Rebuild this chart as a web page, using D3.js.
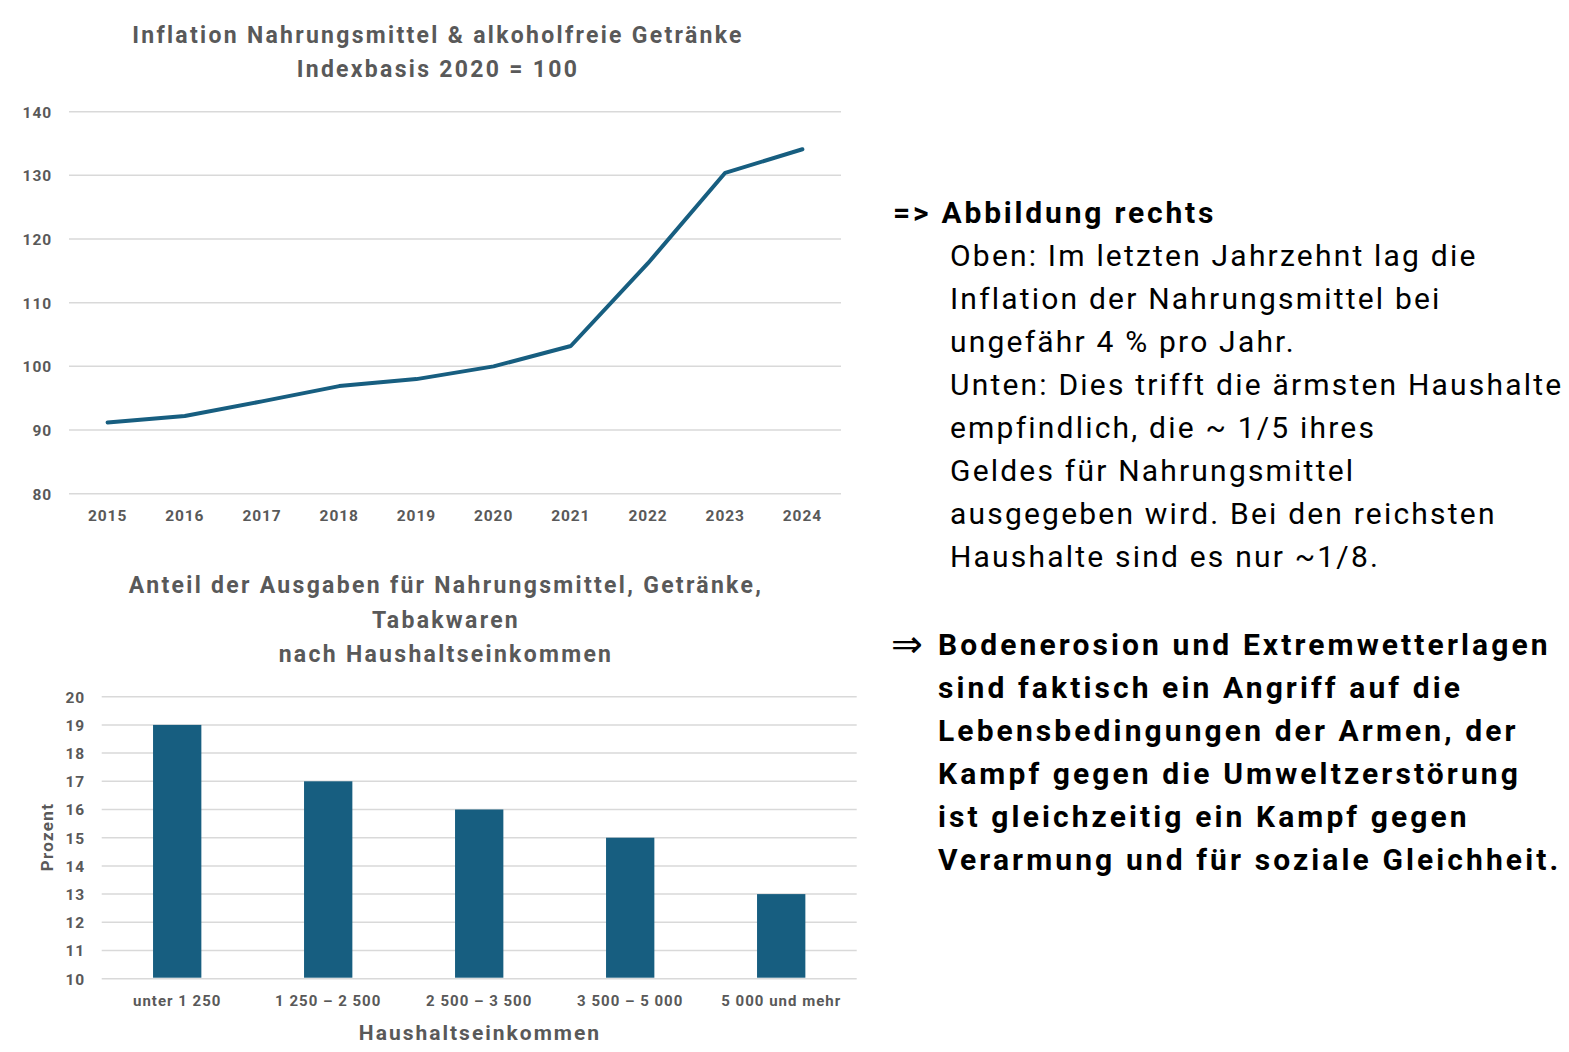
<!DOCTYPE html>
<html><head><meta charset="utf-8">
<script src="https://cdn.jsdelivr.net/npm/d3@7"></script>
<style>
body{margin:0;background:#fff;}
svg{display:block;}
</style></head>
<body>
<svg id="c" width="1569" height="1052"></svg>
<script>
// ---- data ----
const years = ["2015","2016","2017","2018","2019","2020","2021","2022","2023","2024"];
const indexValues = [91.2, 92.2, 94.5, 96.9, 98.0, 100.0, 103.2, 116.2, 130.4, 134.1];
const lineTicks = [80, 90, 100, 110, 120, 130, 140];

const incomeGroups = ["unter 1 250", "1 250 – 2 500", "2 500 – 3 500", "3 500 – 5 000", "5 000 und mehr"];
const shareValues = [19, 17, 16, 15, 13];
const barTicks = [10, 11, 12, 13, 14, 15, 16, 17, 18, 19, 20];

const lineTitle = ["Inflation Nahrungsmittel & alkoholfreie Getränke", "Indexbasis 2020 = 100"];
const barTitle = ["Anteil der Ausgaben für Nahrungsmittel, Getränke,", "Tabakwaren", "nach Haushaltseinkommen"];
const textBlock1 = [
  {t:"=> Abbildung rechts", bold:true, x:893},
  {t:"Oben: Im letzten Jahrzehnt lag die", x:950},
  {t:"Inflation der Nahrungsmittel bei", x:950},
  {t:"ungefähr 4 % pro Jahr.", x:950},
  {t:"Unten: Dies trifft die ärmsten Haushalte", x:950},
  {t:"empfindlich, die ~ 1/5 ihres", x:950},
  {t:"Geldes für Nahrungsmittel", x:950},
  {t:"ausgegeben wird. Bei den reichsten", x:950},
  {t:"Haushalte sind es nur ~1/8.", x:950}
];
const textBlock2 = [
  "Bodenerosion und Extremwetterlagen",
  "sind faktisch ein Angriff auf die",
  "Lebensbedingungen der Armen, der",
  "Kampf gegen die Umweltzerstörung",
  "ist gleichzeitig ein Kampf gegen",
  "Verarmung und für soziale Gleichheit."
];

const svg = d3.select("#c");
const gray = "#595959", grid = "#d9d9d9", blue = "#175e80";
const FONT = "Roboto, 'Liberation Sans', sans-serif";

// ---- line chart ----
const lx = d3.scaleBand().domain(years).range([69, 841]);
const ly = d3.scaleLinear().domain([80, 140]).range([493.7, 111.7]);

const g1 = svg.append("g");
g1.selectAll("line.grid").data(lineTicks).join("line")
  .attr("x1", 69).attr("x2", 841)
  .attr("y1", d => ly(d)).attr("y2", d => ly(d))
  .attr("stroke", grid).attr("stroke-width", 1.5);

const yAx1 = d3.axisLeft(ly).tickValues(lineTicks).tickSize(0).tickPadding(0);
g1.append("g").attr("transform", "translate(52,0)").call(yAx1)
  .call(g => g.select(".domain").remove())
  .selectAll("text").attr("font-family", FONT).attr("font-size", 15.5).attr("font-weight", "bold")
  .attr("letter-spacing", 0.9).attr("fill", gray).attr("dy", "0.35em");

const xAx1 = d3.axisBottom(lx).tickSize(0).tickPadding(0);
g1.append("g").attr("transform", "translate(0,510)").call(xAx1)
  .call(g => g.select(".domain").remove())
  .selectAll("text").attr("font-family", FONT).attr("font-size", 15.5).attr("font-weight", "bold")
  .attr("letter-spacing", 0.9).attr("fill", gray).attr("dy", "0.35em").attr("y", 6);

const line = d3.line().x((d, i) => lx(years[i]) + lx.bandwidth() / 2).y(d => ly(d));
g1.append("path").datum(indexValues).attr("d", line)
  .attr("fill", "none").attr("stroke", blue).attr("stroke-width", 4)
  .attr("stroke-linecap", "round").attr("stroke-linejoin", "round");

g1.selectAll("text.title").data(lineTitle).join("text")
  .attr("x", 438).attr("y", (d, i) => 35 + i * 34).attr("dy", "0.35em")
  .attr("text-anchor", "middle").attr("font-family", FONT).attr("font-weight", "bold")
  .attr("font-size", 23).attr("letter-spacing", 2.3).attr("fill", gray).text(d => d);

// ---- bar chart ----
const bx = d3.scaleBand().domain(incomeGroups).range([101.7, 856.7]).paddingInner(0.68).paddingOuter(0.34);
const by = d3.scaleLinear().domain([10, 20]).range([978.7, 696.7]);

const g2 = svg.append("g");
g2.selectAll("line.grid").data(barTicks).join("line")
  .attr("x1", 101.7).attr("x2", 856.7)
  .attr("y1", d => by(d)).attr("y2", d => by(d))
  .attr("stroke", grid).attr("stroke-width", 1.5);

g2.selectAll("rect").data(shareValues).join("rect")
  .attr("x", (d, i) => bx(incomeGroups[i]))
  .attr("width", bx.bandwidth())
  .attr("y", d => by(d))
  .attr("height", d => by(10) - by(d) - 1)
  .attr("fill", blue);

const yAx2 = d3.axisLeft(by).tickValues(barTicks).tickSize(0).tickPadding(0);
g2.append("g").attr("transform", "translate(85,0)").call(yAx2)
  .call(g => g.select(".domain").remove())
  .selectAll("text").attr("font-family", FONT).attr("font-size", 15.5).attr("font-weight", "bold")
  .attr("letter-spacing", 0.9).attr("fill", gray).attr("dy", "0.35em");

const xAx2 = d3.axisBottom(bx).tickSize(0).tickPadding(0);
g2.append("g").attr("transform", "translate(0,995)").call(xAx2)
  .call(g => g.select(".domain").remove())
  .selectAll("text").attr("font-family", FONT).attr("font-size", 15).attr("font-weight", "bold")
  .attr("letter-spacing", 1).attr("fill", gray).attr("dy", "0.35em").attr("y", 6);

g2.selectAll("text.title").data(barTitle).join("text")
  .attr("x", 446).attr("y", (d, i) => 585 + i * 34.5).attr("dy", "0.35em")
  .attr("text-anchor", "middle").attr("font-family", FONT).attr("font-weight", "bold")
  .attr("font-size", 23).attr("letter-spacing", 2.3).attr("fill", gray).text(d => d);

g2.append("text").attr("transform", "translate(47,837) rotate(-90)").attr("dy", "0.35em")
  .attr("text-anchor", "middle").attr("font-family", FONT).attr("font-weight", "bold")
  .attr("font-size", 17).attr("letter-spacing", 1.3).attr("fill", gray).text("Prozent");

g2.append("text").attr("x", 480).attr("y", 1033).attr("dy", "0.35em")
  .attr("text-anchor", "middle").attr("font-family", FONT).attr("font-weight", "bold")
  .attr("font-size", 21).attr("letter-spacing", 2).attr("fill", gray).text("Haushaltseinkommen");

// ---- right text ----
const TF = "Roboto, 'Liberation Sans', sans-serif";
const g3 = svg.append("g");
g3.selectAll("text.b1").data(textBlock1).join("text")
  .attr("x", d => d.x).attr("y", (d, i) => 212 + i * 43.1).attr("dy", "0.35em")
  .attr("font-family", TF).attr("font-size", 30)
  .attr("font-weight", d => d.bold ? "bold" : "normal")
  .attr("letter-spacing", d => d.bold ? 2.8 : 2.2)
  .attr("fill", "#000").text(d => d.t);

g3.append("text").attr("x", 891).attr("y", 644).attr("dy", "0.35em")
  .attr("font-family", "'DejaVu Sans', sans-serif").attr("font-size", 38).attr("fill", "#000").text("⇒");
g3.selectAll("text.b2").data(textBlock2).join("text")
  .attr("x", 938).attr("y", (d, i) => 644 + i * 43).attr("dy", "0.35em")
  .attr("font-family", TF).attr("font-size", 30).attr("font-weight", "bold")
  .attr("letter-spacing", 3.1).attr("fill", "#000").text(d => d);
</script>
</body></html>
